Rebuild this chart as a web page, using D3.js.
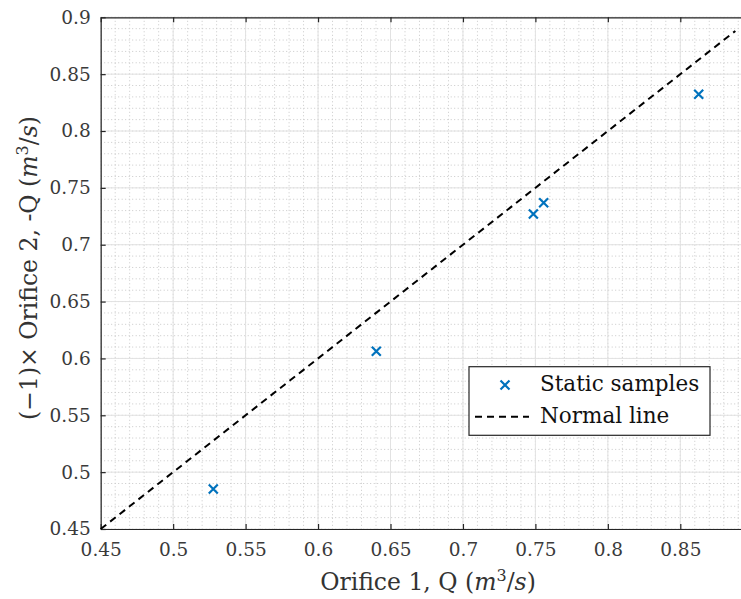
<!DOCTYPE html>
<html><head><meta charset="utf-8">
<script src="https://cdn.jsdelivr.net/npm/d3@7"></script>
<style>body{margin:0;background:#fff}svg{display:block}</style>
</head><body>
<svg id="c" width="741" height="599"></svg>
<script>
const sampleX = [0.5277, 0.6402, 0.7486, 0.7557, 0.8627];
const sampleY = [0.4852, 0.6063, 0.7270, 0.7369, 0.8323];
const lineX = [0.45, 0.888];
const lineY = [0.45, 0.888];
const xTicks = [0.45, 0.5, 0.55, 0.6, 0.65, 0.7, 0.75, 0.8, 0.85];
const yTicks = [0.45, 0.5, 0.55, 0.6, 0.65, 0.7, 0.75, 0.8, 0.85, 0.9];
const legendLabels = ["Static samples", "Normal line"];

const svg = d3.select("#c");
const L = 100.7, R = 741, T = 17.3, B = 529;
const x = d3.scaleLinear().domain([0.45, 0.45 + (R - L) / 72.45 * 0.05]).range([L, R]);
const y = d3.scaleLinear().domain([0.45, 0.9]).range([B, T]);
const font = "'DejaVu Serif', serif";
const fs = 18.5, fsLeg = 21.5, fsLab = 23.5;
const axisCol = "#262626";

// minor grid
const minorX = d3.range(0.45, 0.895, 0.01).map(v => +v.toFixed(2));
const minorY = d3.range(0.45, 0.905, 0.01).map(v => +v.toFixed(2));
const g = svg.append("g");
g.selectAll(".mx").data(minorX).join("line")
  .attr("x1", d => x(d)).attr("x2", d => x(d)).attr("y1", T).attr("y2", B)
  .attr("stroke", "#c8c8c8").attr("stroke-width", 1).attr("stroke-dasharray", "1,2.5");
g.selectAll(".my").data(minorY).join("line")
  .attr("y1", d => y(d)).attr("y2", d => y(d)).attr("x1", L).attr("x2", R)
  .attr("stroke", "#c8c8c8").attr("stroke-width", 1).attr("stroke-dasharray", "1,2.5");
// major grid
g.selectAll(".gx").data(xTicks).join("line")
  .attr("x1", d => x(d)).attr("x2", d => x(d)).attr("y1", T).attr("y2", B)
  .attr("stroke", "#e2e2e2").attr("stroke-width", 1);
g.selectAll(".gy").data(yTicks).join("line")
  .attr("y1", d => y(d)).attr("y2", d => y(d)).attr("x1", L).attr("x2", R)
  .attr("stroke", "#e2e2e2").attr("stroke-width", 1);

// axes
const fmt = d => String(d);
const xAxis = svg.append("g").attr("transform", `translate(0,${B})`)
  .call(d3.axisBottom(x).tickValues(xTicks).tickFormat(fmt).tickSizeInner(-5).tickSizeOuter(0).tickPadding(14));
const xTop = svg.append("g").attr("transform", `translate(0,${T})`)
  .call(d3.axisTop(x).tickValues(xTicks).tickFormat("").tickSizeInner(-5).tickSizeOuter(0));
const yAxis = svg.append("g").attr("transform", `translate(${L},0)`)
  .call(d3.axisLeft(y).tickValues(yTicks).tickFormat(fmt).tickSizeInner(-5).tickSizeOuter(0).tickPadding(10));
[xAxis, xTop, yAxis].forEach(a => {
  a.attr("font-family", font).attr("font-size", fs);
  a.select(".domain").attr("stroke", axisCol).attr("stroke-width", 1.2);
  a.selectAll(".tick line").attr("stroke", axisCol).attr("stroke-width", 1.2);
  a.selectAll("text").attr("font-family", font).attr("font-size", fs).attr("fill", "#3a3a3a");
});
xAxis.selectAll("text").attr("dy", "0.71em");

// normal line
svg.append("path")
  .datum(lineX.map((v, i) => [v, lineY[i]]))
  .attr("d", d3.line().x(d => x(d[0])).y(d => y(d[1])))
  .attr("stroke", "#000").attr("stroke-width", 2).attr("stroke-dasharray", "7,5").attr("fill", "none");

// samples
const cross = (sel, s) => sel.append("path")
  .attr("d", `M${-s},${-s}L${s},${s}M${-s},${s}L${s},${-s}`)
  .attr("stroke", "#0072BD").attr("stroke-width", 2.2).attr("fill", "none");
const pts = svg.selectAll(".pt").data(sampleX.map((v, i) => [v, sampleY[i]])).join("g")
  .attr("transform", d => `translate(${x(d[0])},${y(d[1])})`);
pts.each(function(){ cross(d3.select(this), 4.5); });

// legend
const lg = svg.append("g");
lg.append("rect").attr("x", 469).attr("y", 366.7).attr("width", 241).attr("height", 68.6)
  .attr("fill", "#fff").attr("stroke", axisCol).attr("stroke-width", 1.2);
const lm = lg.append("g").attr("transform", "translate(505,385)");
cross(lm, 4.5);
lg.append("line").attr("x1", 475).attr("x2", 529).attr("y1", 416.7).attr("y2", 416.7)
  .attr("stroke", "#000").attr("stroke-width", 2).attr("stroke-dasharray", "7,5");
lg.selectAll("text").data(legendLabels).join("text")
  .attr("x", 540).attr("y", (d, i) => 383.5 + i * 31.7).attr("dy", "0.35em")
  .attr("font-family", font).attr("font-size", fsLeg).attr("fill", "#111").text(d => d);

// axis labels
const xl = svg.append("text").attr("x", 428).attr("y", 590).attr("text-anchor", "middle")
  .attr("font-family", font).attr("font-size", fsLab).attr("fill", "#333");
xl.append("tspan").text("Orifice 1, Q (");
xl.append("tspan").attr("font-style", "italic").text("m");
xl.append("tspan").attr("font-size", 16).attr("dy", -9).text("3");
xl.append("tspan").attr("dy", 9).text("/");
xl.append("tspan").attr("font-style", "italic").text("s");
xl.append("tspan").text(")");

const yl = svg.append("text").attr("transform", "translate(37,268) rotate(-90)").attr("text-anchor", "middle")
  .attr("font-family", font).attr("font-size", fsLab).attr("fill", "#333");
yl.append("tspan").text("(\u22121)\u00d7 Orifice 2, -Q (");
yl.append("tspan").attr("font-style", "italic").text("m");
yl.append("tspan").attr("font-size", 16).attr("dy", -9).text("3");
yl.append("tspan").attr("dy", 9).text("/");
yl.append("tspan").attr("font-style", "italic").text("s");
yl.append("tspan").text(")");
</script>
</body></html>
